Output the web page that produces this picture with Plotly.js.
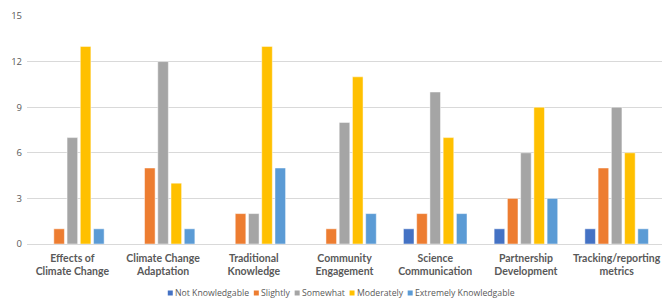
<!DOCTYPE html>
<html><head><meta charset="utf-8">
<script src="https://cdn.plot.ly/plotly-3.0.1.min.js"></script>
<style>html,body{margin:0;padding:0;background:#fff}#c{width:662px;height:301px}</style>
</head><body><div id="c"></div>
<script>
const categories = ["Effects of<br>Climate Change","Climate Change<br>Adaptation","Traditional<br>Knowledge","Community<br>Engagement","Science<br>Communication","Partnership<br>Development","Tracking/reporting<br>metrics"];
const seriesNames = ["Not Knowledgable","Slightly","Somewhat","Moderately","Extremely Knowledgable"];
const notKnowledgable = [0,0,0,0,1,1,1];
const slightly = [1,5,2,1,2,3,5];
const somewhat = [7,12,2,8,10,6,9];
const moderately = [13,4,13,11,7,9,6];
const extremely = [1,1,5,2,2,3,1];
const colors = ["#4472C4","#ED7D31","#A5A5A5","#FFC000","#5B9BD5"];
const seriesValues = [notKnowledgable, slightly, somewhat, moderately, extremely];
const tickVals = [0,3,6,9,12,15];

// layout geometry (pixels)
const M = {l:27, r:0, t:16, b:57};
const W = 662, H = 301;
const pw = W - M.l - M.r, ph = H - M.t - M.b;
const px2x = p => (p - M.l) / pw;
const px2y = p => (H - M.b - p) / ph;
const legendFont = 'Open Sans';
const legendSize = 8.7;
const legendY = 293, legendCenter = 341, sq = 5, sqGap = 2, itemGap = 5;

const ctx = document.createElement('canvas').getContext('2d');
ctx.font = legendSize + 'px "' + legendFont + '"';
const widths = seriesNames.map(n => ctx.measureText(n).width);
const total = widths.reduce((a,w)=>a + sq + sqGap + w, 0) + itemGap*(seriesNames.length-1);
let cur = legendCenter - total/2;
const shapes = [], annotations = [];
seriesNames.forEach((n,i)=>{
  shapes.push({type:'rect', xref:'paper', yref:'paper', layer:'above',
    x0:px2x(cur), x1:px2x(cur+sq), y0:px2y(legendY+sq/2), y1:px2y(legendY-sq/2),
    fillcolor:colors[i], line:{width:0}});
  annotations.push({text:n, xref:'paper', yref:'paper', showarrow:false, borderpad:0, borderwidth:0,
    x:px2x(cur+sq+sqGap), y:px2y(legendY), xanchor:'left', yanchor:'middle',
    font:{size:legendSize, color:'#595959', family:legendFont}});
  cur += sq + sqGap + widths[i] + itemGap;
});

const traces = seriesValues.map((v,i)=>({
  type:'bar', x:categories, y:v, name:seriesNames[i],
  marker:{color:colors[i], line:{color:'rgba(255,255,255,0.6)', width:0.8}},
  hoverinfo:'y', showlegend:false
}));
const layout = {
  width:W, height:H,
  margin:M,
  paper_bgcolor:'#fff', plot_bgcolor:'#fff',
  barmode:'group', bargap:0.27, bargroupgap:0.2,
  font:{family:'Open Sans, Calibri, sans-serif', color:'#595959'},
  xaxis:{showgrid:false, showline:true, linecolor:'#d9d9d9', linewidth:1, ticks:'',
    tickfont:{family:'Lato, sans-serif', size:10.5, color:'#595959', weight:700}, ticklabelstandoff:4},
  yaxis:{range:[0,15], tickvals:tickVals, showgrid:true, gridcolor:'#d9d9d9', gridwidth:1,
    zeroline:false, showline:false, ticks:'', tickfont:{size:9.5, color:'#595959'}, ticklabelstandoff:4},
  shapes:shapes, annotations:annotations,
  showlegend:false
};
Plotly.newPlot('c', traces, layout, {displayModeBar:false, staticPlot:true});
</script></body></html>
